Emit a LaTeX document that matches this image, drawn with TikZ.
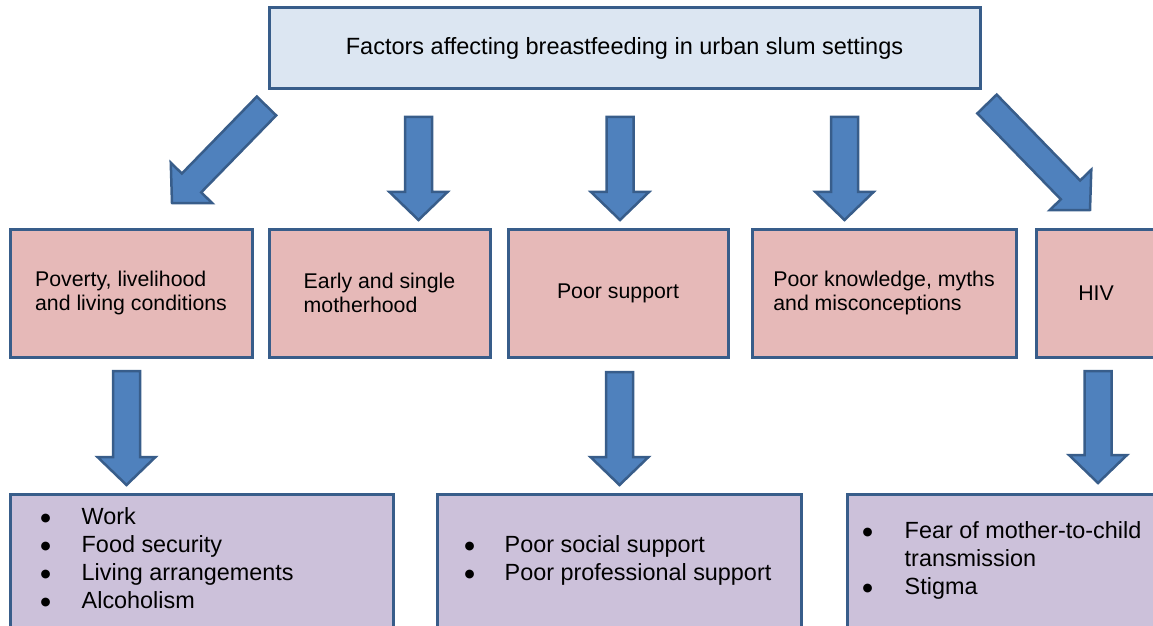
\documentclass[tikz,border=0pt]{standalone}
\usepackage{fontspec}
\setmainfont{Liberation Sans}
\newfontfamily\symfont{DejaVu Sans}
\usetikzlibrary{calc}
\definecolor{boxedge}{HTML}{385D8A}
\definecolor{topfill}{HTML}{DCE6F2}
\definecolor{midfill}{HTML}{E6B9B8}
\definecolor{botfill}{HTML}{CCC1DA}
\definecolor{arrfill}{HTML}{4F81BD}
\newcommand{\bul}{\raisebox{2.5pt}{\symfont\fontsize{11.5}{12}\selectfont ●}}
\newcommand{\blockarrow}[2]{%
  \coordinate (ah) at ($(#2)!28pt!(#1)$);
  \draw[barrow] ($(#1)!13.5pt!90:(#2)$) -- ($(ah)!13.5pt!90:(#2)$) -- ($(ah)!29pt!90:(#2)$)
    -- (#2) -- ($(ah)!29pt!-90:(#2)$) -- ($(ah)!13.5pt!-90:(#2)$) -- ($(#1)!13.5pt!-90:(#2)$) -- cycle;}
\tikzset{
  topbox/.style={draw=boxedge, fill=topfill, line width=3pt, minimum width=711pt, minimum height=81pt, inner sep=0pt, font=\fontsize{23.5}{28}\selectfont},
  midbox/.style={draw=boxedge, fill=midfill, line width=3pt, minimum height=128pt, inner sep=0pt, align=left, font=\fontsize{21.3}{24}\selectfont},
  botbox/.style={draw=boxedge, fill=botfill, line width=3pt, minimum height=133pt, inner sep=0pt},
  listtext/.style={inner sep=0pt, anchor=west, font=\fontsize{23.4}{28}\selectfont, align=left},
  barrow/.style={draw=boxedge, fill=arrfill, line width=2.5pt, line join=miter},
}
\begin{document}
\begin{tikzpicture}[x=1pt, y=1pt]
\useasboundingbox (0,0) rectangle (1153,625);
\clip (0,0) rectangle (1153,625);
% top
\node[topbox] (top) at (624.5,576.5) {Factors affecting breastfeeding in urban slum settings};
% middle
\node[midbox, minimum width=242pt] (m1) at (131,332) {Poverty, livelihood\\and living conditions};
\node[midbox, minimum width=221pt] (m2) at (379.5,332) {Early and single\\motherhood};
\node[midbox, minimum width=220pt] (m3) at (618,332) {Poor support};
\node[midbox, minimum width=264pt] (m4) at (884,332) {Poor knowledge, myths\\and misconceptions};
\node[midbox, minimum width=120pt] (m5) at (1096,332) {HIV};
% bottom
\node[botbox, minimum width=383pt] (b1) at (201.5,64.5) {};
\node[botbox, minimum width=364pt] (b2) at (619,64.5) {};
\node[botbox, minimum width=323pt] (b3) at (1008.5,64.5) {};
\node[listtext] (b1t) at ($(b1.west)+(32pt,0)$) {\begin{tabular}{@{}p{41pt}@{}l@{}}\bul&Work\\\bul&Food security\\\bul&Living arrangements\\\bul&Alcoholism\end{tabular}};
\node[listtext] (b2t) at ($(b2.west)+(29pt,0)$) {\begin{tabular}{@{}p{40pt}@{}l@{}}\bul&Poor social support\\\bul&Poor professional support\end{tabular}};
\node[listtext] (b3t) at ($(b3.west)+(17pt,0)$) {\begin{tabular}{@{}p{42pt}@{}l@{}}\bul&Fear of mother-to-child\\&transmission\\\bul&Stigma\end{tabular}};
% arrow end points
\coordinate (a1s) at (266.5,519);
\coordinate (a1e) at (172,422);
\coordinate (a2s) at (418.5,508);
\coordinate (a2e) at (418.5,405);
\coordinate (a3s) at (620,508);
\coordinate (a3e) at (620,405);
\coordinate (a4s) at (844.5,508);
\coordinate (a4e) at (844.5,405);
\coordinate (a5s) at (987,521);
\coordinate (a5e) at (1090,415);
\coordinate (c1s) at (126.5,254);
\coordinate (c1e) at (126.5,140);
\coordinate (c2s) at (619.5,253);
\coordinate (c2e) at (619.5,140);
\coordinate (c3s) at (1098,254);
\coordinate (c3e) at (1098,142);
\blockarrow{a1s}{a1e}
\blockarrow{a2s}{a2e}
\blockarrow{a3s}{a3e}
\blockarrow{a4s}{a4e}
\blockarrow{a5s}{a5e}
\blockarrow{c1s}{c1e}
\blockarrow{c2s}{c2e}
\blockarrow{c3s}{c3e}
\end{tikzpicture}
\end{document}
